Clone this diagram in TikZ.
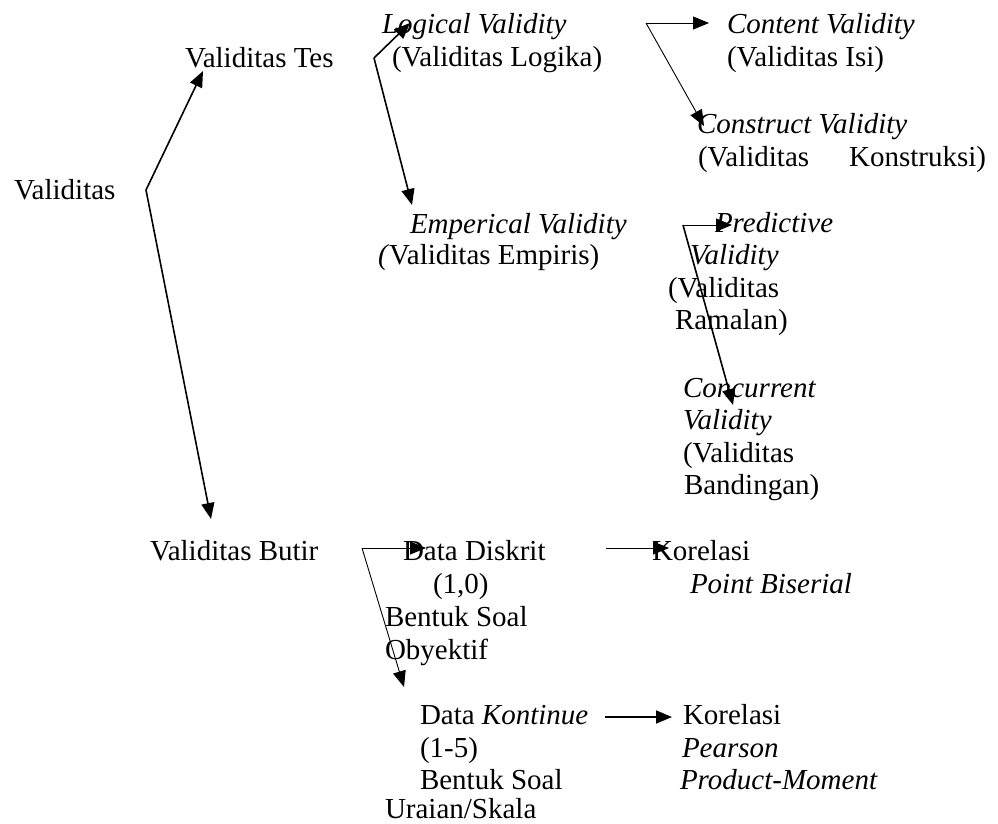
\documentclass[tikz,border=0pt]{standalone}
\usepackage{fontspec}
\setmainfont{Liberation Serif}
\usetikzlibrary{arrows.meta}
\tikzset{
  txt/.style={anchor=base west, inner sep=0pt, outer sep=0pt, font=\fontsize{29}{33}\selectfont},
  thinarr/.style={-{Triangle[length=16pt,width=13pt]}, line width=0.9pt},
  thickarr/.style={-{Triangle[length=16pt,width=13pt]}, line width=1.6pt},
}
\begin{document}
\begin{tikzpicture}[x=1pt,y=-1pt]
\useasboundingbox (0,0) rectangle (998,824);
% texts
\node[txt] (v) at (14,199) {Validitas};
\node[txt] (vt) at (185,68) {Validitas Tes};
\node[txt] (lv1) at (382,34) {\textit{Logical Validity}};
\node[txt] (lv2) at (392,67) {(Validitas Logika)};
\node[txt] (cv1) at (727,34) {\textit{Content Validity}};
\node[txt] (cv2) at (727,67) {(Validitas Isi)};
\node[txt] (sv1) at (697,133) {\textit{Construct Validity}};
\node[txt] (sv2) at (698,166) {(Validitas\hspace{40pt}Konstruksi)};
\node[txt] (ev1) at (410,233) {\textit{Emperical Validity}};
\node[txt] (ev2) at (378,264) {\textit{(}Validitas Empiris)};
\node[txt] (pv1) at (715,232) {\textit{Predictive}};
\node[txt] (pv2) at (690,264) {\textit{Validity}};
\node[txt] (pv3) at (668,297) {(Validitas};
\node[txt] (pv4) at (675,329) {Ramalan)};
\node[txt] (cc1) at (683,397) {\textit{Concurrent}};
\node[txt] (cc2) at (683,429) {\textit{Validity}};
\node[txt] (cc3) at (683,462) {(Validitas};
\node[txt] (cc4) at (684,494) {Bandingan)};
\node[txt] (vb) at (150,560) {Validitas Butir};
\node[txt] (dd1) at (403,560) {Data Diskrit};
\node[txt] (dd2) at (433,593) {(1,0)};
\node[txt] (dd3) at (385,626) {Bentuk Soal};
\node[txt] (dd4) at (385,659) {Obyektif};
\node[txt] (kb1) at (652,560) {Korelasi};
\node[txt] (kb2) at (690,593) {\textit{Point Biserial}};
\node[txt] (dk1) at (420,724) {Data \textit{Kontinue}};
\node[txt] (dk2) at (420,757) {(1-5)};
\node[txt] (dk3) at (420,789) {Bentuk Soal};
\node[txt] (dk4) at (385,818) {Uraian/Skala};
\node[txt] (kp1) at (683,724) {Korelasi};
\node[txt] (kp2) at (682,757) {\textit{Pearson}};
\node[txt] (kp3) at (680,789) {\textit{Product-Moment}};
% branch points and arrow tips
\coordinate (bv) at (146,190);
\coordinate (tvt) at (203,71);
\coordinate (tvb) at (211,519);
\coordinate (bt) at (374,58);
\coordinate (tlv) at (410,23);
\coordinate (tev) at (412,205);
\coordinate (bl) at (646,23);
\coordinate (tcv) at (709,23);
\coordinate (tsv) at (704,126);
\coordinate (be) at (683,225);
\coordinate (tpv) at (732,225);
\coordinate (tcc) at (733,405);
\coordinate (bb) at (362,548);
\coordinate (tdd) at (426,548);
\coordinate (tdk) at (404,687);
\coordinate (bd) at (606,548);
\coordinate (tkb) at (669,548);
\coordinate (bk) at (605,717);
\coordinate (tkp) at (672,717);
% connectors
\draw[thickarr] (bv) -- (tvt);
\draw[thickarr] (bv) -- (tvb);
\draw[thickarr] (bt) -- (tlv);
\draw[thickarr] (bt) -- (tev);
\draw[thinarr] (bl) -- (tcv);
\draw[thinarr] (bl) -- (tsv);
\draw[thinarr] (be) -- (tpv);
\draw[thickarr] (be) -- (tcc);
\draw[thinarr] (bb) -- (tdd);
\draw[thinarr] (bb) -- (tdk);
\draw[thinarr] (bd) -- (tkb);
\draw[thickarr] (bk) -- (tkp);
\end{tikzpicture}
\end{document}
